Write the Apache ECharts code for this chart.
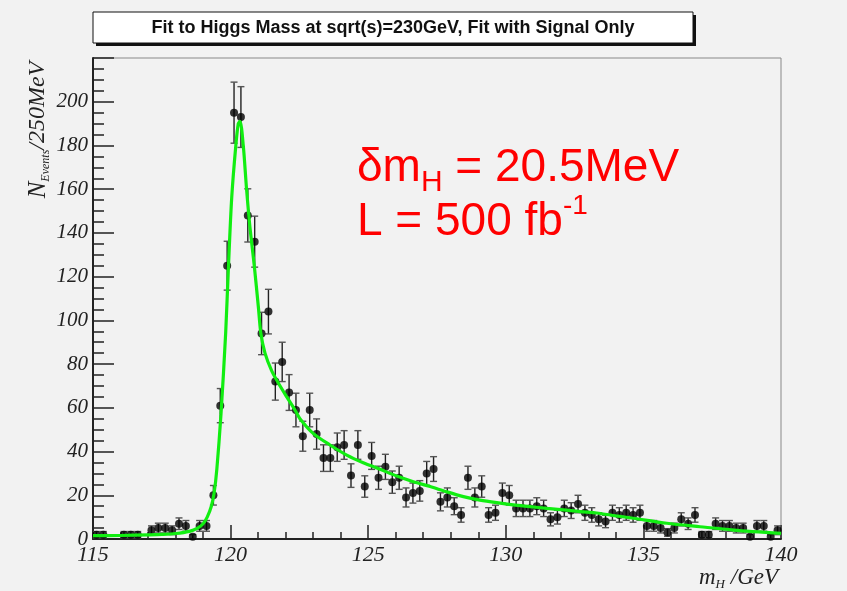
<!DOCTYPE html>
<html>
<head>
<meta charset="utf-8">
<script src="https://cdn.jsdelivr.net/npm/echarts@6.0.0/dist/echarts.min.js"></script>
<style>
  html, body { margin: 0; padding: 0; background: #f2f2f2; }
  #chart { width: 847px; height: 591px; }
</style>
</head>
<body>
<div id="chart"></div>
<script>
// Histogram: 100 bins of 250 MeV from 115 to 140 GeV
const binLow = 115;
const binWidth = 0.25;
const counts = [
  2, 2, 0, 0, 2, 2, 2, 0, 4, 5,
  5, 4, 7, 6, 1, 6, 6, 20, 61, 125,
  195, 193, 148, 136, 94, 104, 72, 81, 67, 59,
  47, 59, 48, 37, 37, 42, 43, 29, 43, 24,
  38, 28, 33, 26, 28, 19, 21, 22, 30, 32,
  17, 19, 15, 11, 28, 19, 24, 11, 12, 21,
  20, 14, 14, 14, 15, 14, 9, 10, 14, 13,
  16, 12, 11, 9, 8, 12, 11, 12, 11, 12,
  6, 6, 5, 3, 5, 9, 7, 11, 2, 2,
  7, 6, 6, 5, 5, 1, 6, 6, 1, 4
];

// Fitted signal shape, sampled along the curve
const fitMass = [
  115, 116, 117, 117.5, 118, 118.5, 118.8, 119.0, 119.15, 119.3,
  119.4, 119.5, 119.65, 119.82, 119.92, 120.04, 120.19, 120.28, 120.34, 120.46,
  120.58, 120.70, 120.86, 121.01, 121.10, 121.25, 121.49, 121.75, 122.04, 122.34,
  122.52, 123.0, 123.61, 124.22, 124.82, 125.43, 126.04, 126.64, 127.25, 127.85,
  128.46, 129.06, 129.67, 130.27, 130.88, 131.49, 132.09, 132.70, 133.30, 134.0,
  134.63, 135.85, 137.06, 138.27, 140
];
const fitEvents = [
  1.5, 1.6, 1.9, 2.1, 2.5, 3.5, 5, 7, 10, 15,
  21, 32, 57, 94, 124, 156, 180, 190, 191, 180,
  160, 143, 125, 106, 94, 85, 77, 71, 65, 59,
  55, 48.3, 43, 38.4, 34.9, 31.9, 28.8, 26.2, 24, 21.6,
  19.4, 17.8, 16.6, 15.6, 14.8, 14, 13.3, 12.5, 11.9, 10.6,
  9.5, 7.2, 5.6, 4.1, 2.6
];

const xTicks = [115, 120, 125, 130, 135, 140];
const yTicks = [0, 20, 40, 60, 80, 100, 120, 140, 160, 180, 200];

const titleText = 'Fit to Higgs Mass at sqrt(s)=230GeV, Fit with Signal Only';

// Points with Poisson (sqrt N) uncertainties
const points = counts.map((n, i) => [binLow + binWidth * (i + 0.5), n, Math.sqrt(n)]);
const fitLine = fitMass.map((m, i) => [m, fitEvents[i]]);

const chart = echarts.init(document.getElementById('chart'), null, { renderer: 'canvas' });

const serif = 'Liberation Serif';
const sans = 'Liberation Sans';

function renderErrorBar(params, api) {
  const n = api.value(1);
  if (n <= 0) return null;
  const x = api.value(0);
  const e = api.value(2);
  const top = api.coord([x, n + e]);
  const bot = api.coord([x, n - e]);
  const cap = 3.5;
  const style = { stroke: '#222', lineWidth: 1.4 };
  const capStyle = { stroke: '#555', lineWidth: 1.4 };
  return {
    type: 'group',
    children: [
      { type: 'line', shape: { x1: top[0], y1: top[1], x2: bot[0], y2: bot[1] }, style: style },
      { type: 'line', shape: { x1: top[0] - cap, y1: top[1], x2: top[0] + cap, y2: top[1] }, style: capStyle },
      { type: 'line', shape: { x1: bot[0] - cap, y1: bot[1], x2: bot[0] + cap, y2: bot[1] }, style: capStyle }
    ]
  };
}

chart.setOption({
  backgroundColor: '#f2f2f2',
  animation: false,
  grid: {
    left: 93, right: 66, top: 58, bottom: 52,
    show: true, borderColor: '#888', borderWidth: 1, backgroundColor: 'transparent'
  },
  xAxis: {
    type: 'value',
    min: xTicks[0], max: xTicks[xTicks.length - 1], interval: 5,
    axisLine: { show: true, onZero: false, lineStyle: { color: '#222', width: 2 } },
    axisTick: { show: true, inside: true, length: 14, lineStyle: { color: '#222', width: 1.5 } },
    minorTick: { show: true, splitNumber: 5, length: 7, lineStyle: { color: '#222', width: 1.5 } },
    splitLine: { show: false },
    axisLabel: {
      margin: 5, color: '#222', fontFamily: serif, fontStyle: 'italic', fontSize: 22,
      formatter: v => xTicks.indexOf(v) >= 0 ? String(v) : ''
    }
  },
  yAxis: {
    type: 'value',
    min: 0, max: 220, interval: 20,
    axisLine: { show: true, lineStyle: { color: '#222', width: 2 } },
    axisTick: { show: true, inside: true, length: 21, lineStyle: { color: '#222', width: 1.5 } },
    minorTick: { show: true, splitNumber: 4, length: 11, lineStyle: { color: '#222', width: 1.5 } },
    splitLine: { show: false },
    axisLabel: {
      margin: 5, color: '#222', fontFamily: serif, fontStyle: 'italic', fontSize: 21,
      formatter: v => yTicks.indexOf(v) >= 0 ? String(v) : ''
    }
  },
  series: [
    {
      type: 'custom',
      data: points,
      renderItem: renderErrorBar,
      z: 2,
      clip: true
    },
    {
      type: 'scatter',
      data: points.map(p => [p[0], p[1]]),
      symbol: 'circle',
      symbolSize: v => (v[1] > 0 ? 8 : 0),
      itemStyle: { color: '#000' },
      z: 3
    },
    {
      type: 'line',
      data: fitLine,
      showSymbol: false,
      smooth: 0.3,
      lineStyle: { color: '#11ee11', width: 3.2 },
      z: 4,
      clip: true
    }
  ],
  graphic: [
    // title box with drop shadow
    { type: 'rect', shape: { x: 96, y: 15, width: 600, height: 31 }, style: { fill: '#111' }, z: 10 },
    { type: 'rect', shape: { x: 93, y: 12, width: 600, height: 31 }, style: { fill: '#fff', stroke: '#111', lineWidth: 1 }, z: 11 },
    {
      type: 'text', x: 393, y: 28, z: 12,
      style: {
        text: titleText, fill: '#111',
        font: 'bold 18px "Liberation Sans"',
        textAlign: 'center', textVerticalAlign: 'middle'
      }
    },
    // vertical axis title
    {
      type: 'text', x: 38, y: 130, rotation: Math.PI / 2, z: 12,
      style: {
        text: '{n|N}{s|Events}{t|/250MeV}',
        textAlign: 'center', textVerticalAlign: 'middle',
        rich: {
          n: { fontFamily: serif, fontStyle: 'italic', fontSize: 25, lineHeight: 28, verticalAlign: 'middle', fill: '#222' },
          s: { fontFamily: serif, fontStyle: 'italic', fontSize: 12, lineHeight: 12, verticalAlign: 'bottom', fill: '#222' },
          t: { fontFamily: serif, fontStyle: 'italic', fontSize: 24, lineHeight: 28, verticalAlign: 'middle', fill: '#222' }
        }
      }
    },
    // horizontal axis title
    {
      type: 'text', x: 778, y: 578, z: 12,
      style: {
        text: '{m|m}{s|H}{t| /GeV}',
        textAlign: 'right', textVerticalAlign: 'middle',
        rich: {
          m: { fontFamily: serif, fontStyle: 'italic', fontSize: 23, lineHeight: 26, verticalAlign: 'middle', fill: '#222' },
          s: { fontFamily: serif, fontStyle: 'italic', fontSize: 13, lineHeight: 13, verticalAlign: 'bottom', fill: '#222' },
          t: { fontFamily: serif, fontStyle: 'italic', fontSize: 23, lineHeight: 26, verticalAlign: 'middle', fill: '#222' }
        }
      }
    },
    // resolution and luminosity annotation
    {
      type: 'text', x: 357, y: 168, z: 12,
      style: {
        text: '{b|δm}{s|H}{b| = 20.5MeV}',
        textAlign: 'left', textVerticalAlign: 'middle',
        rich: {
          b: { fontFamily: sans, fontSize: 46, lineHeight: 60, verticalAlign: 'middle', fill: '#ff0000' },
          s: { fontFamily: sans, fontSize: 30, lineHeight: 30, verticalAlign: 'bottom', fill: '#ff0000' }
        }
      }
    },
    {
      type: 'text', x: 357, y: 222, z: 12,
      style: {
        text: '{b|L = 500 fb}{p|-1}',
        textAlign: 'left', textVerticalAlign: 'middle',
        rich: {
          b: { fontFamily: sans, fontSize: 46, lineHeight: 60, verticalAlign: 'middle', fill: '#ff0000' },
          p: { fontFamily: sans, fontSize: 28, lineHeight: 40, verticalAlign: 'top', fill: '#ff0000' }
        }
      }
    }
  ]
});
</script>
</body>
</html>
